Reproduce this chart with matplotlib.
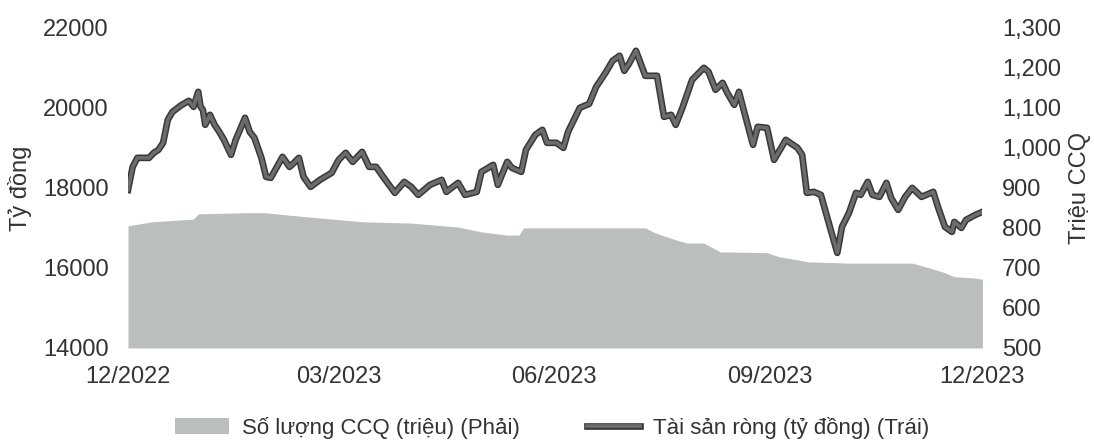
import numpy as np
import pandas as pd
import matplotlib
matplotlib.use("Agg")
import matplotlib.pyplot as plt
import matplotlib.patheffects as pe
from matplotlib.lines import Line2D
from matplotlib.patches import Patch
from matplotlib.ticker import FuncFormatter

plt.rcParams['font.family'] = ['Liberation Sans', 'DejaVu Sans']

start = pd.Timestamp("2022-12-01")

# net assets (ty dong), left axis - day offsets from 01/12/2022
nav_days = [0, 2, 4, 6, 9, 11, 13, 15, 17, 19, 23, 26, 28, 30, 31, 32, 33, 35, 37, 39,
            41, 44, 46, 50, 52, 54, 57, 59, 61, 66, 69, 70, 73, 75, 78, 82, 87, 90, 93, 96,
            100, 103, 106, 109, 114, 118, 121, 124, 129, 134, 136, 141, 144, 149, 151, 156, 158, 162, 164, 168,
            170, 174, 177, 179, 183, 186, 188, 193, 197, 200, 204, 207, 210, 212, 214, 217, 221, 226, 229, 232,
            234, 237, 241, 246, 248, 251, 254, 256, 259, 261, 263, 267, 269, 273, 276, 281, 286, 288, 290, 293,
            296, 299, 303, 305, 308, 311, 313, 316, 318, 321, 324, 326, 329, 332, 335, 339, 344, 346, 349, 352,
            353, 356, 358, 362, 365]
nav_values = [17950, 18525, 18750, 18750, 18750, 18875, 18950, 19125, 19700, 19900, 20075, 20175, 20025, 20400, 20025, 19950, 19575, 19825, 19575, 19400,
              19200, 18825, 19200, 19750, 19400, 19250, 18750, 18275, 18250, 18775, 18525, 18575, 18750, 18275, 18025, 18200, 18375, 18700, 18875, 18650,
              18900, 18525, 18525, 18275, 17875, 18150, 18025, 17825, 18075, 18200, 17900, 18125, 17825, 17900, 18400, 18575, 18075, 18650, 18500, 18400,
              18950, 19325, 19450, 19125, 19125, 19000, 19400, 20000, 20100, 20525, 20875, 21175, 21300, 20925, 21100, 21425, 20800, 20800, 19775, 19825,
              19575, 20025, 20700, 21000, 20900, 20450, 20625, 20375, 20075, 20400, 19950, 19075, 19525, 19500, 18700, 19200, 19000, 18825, 17875, 17900,
              17825, 17200, 16375, 17025, 17375, 17875, 17825, 18150, 17825, 17775, 18125, 17750, 17450, 17775, 18000, 17775, 17900, 17525, 17025, 16900,
              17150, 17000, 17200, 17325, 17400]

# fund certificates outstanding (trieu CCQ), right axis
ccq_days = [0, 10, 28, 30, 51, 58, 72, 87, 101, 121, 141, 151, 162, 167, 169, 184, 221, 225, 234, 239,
            246, 253, 273, 278, 286, 291, 308, 323, 335, 341, 348, 353, 361, 365]
ccq_values = [805, 815, 822, 835, 838, 838, 830, 822, 815, 812, 802, 790, 782, 782, 800, 800, 800, 788, 770, 762,
              762, 740, 738, 728, 720, 715, 712, 712, 712, 702, 690, 678, 675, 672]

tick_labels = ["12/2022", "03/2023", "06/2023", "09/2023", "12/2023"]
tick_days = [0, 90, 182, 274, 365]

legend_labels = ["Số lượng CCQ (triệu) (Phải)", "Tài sản ròng (tỷ đồng) (Trái)"]

area_color = "#babebc"
line_inner = "#6c6c6c"
line_outer = "#383838"
text_color = "#333333"

nav_x = start + pd.to_timedelta(nav_days, unit="D")
ccq_x = start + pd.to_timedelta(ccq_days, unit="D")

fig = plt.figure(figsize=(10.94, 4.41), dpi=100)
ax = fig.add_axes([0.117, 0.211, 0.781, 0.726])
ax2 = ax.twinx()

ax2.fill_between(ccq_x, ccq_values, 500, color=area_color, linewidth=0)
line_fx = [pe.Stroke(linewidth=4.8, foreground=line_outer), pe.Normal()]
ax.plot(nav_x, nav_values, color=line_inner, linewidth=2.6, path_effects=line_fx)

ax.set_zorder(ax2.get_zorder() + 1)
ax.patch.set_visible(False)

ax.set_xlim(start, start + pd.Timedelta(days=365))
ax.set_ylim(14000, 22000)
ax2.set_ylim(500, 1300)
ax.set_yticks([14000, 16000, 18000, 20000, 22000])
ax2.set_yticks(np.arange(500, 1301, 100))
ax2.yaxis.set_major_formatter(FuncFormatter(lambda v, p: f"{v:,.0f}"))
ax.set_xticks(start + pd.to_timedelta(tick_days, unit="D"))
ax.set_xticklabels(tick_labels)

for a in (ax, ax2):
    for s in a.spines.values():
        s.set_visible(False)
    a.tick_params(length=0, labelsize=17, colors=text_color)
ax.tick_params(axis='y', pad=14)
ax2.tick_params(axis='y', pad=14)
ax.tick_params(axis='x', pad=13)

ax.set_ylabel("Tỷ đồng", fontsize=17, color=text_color, labelpad=8)
ax2.set_ylabel("Triệu CCQ", fontsize=17, color=text_color, labelpad=6)

handles = [Patch(facecolor=area_color, edgecolor='none'),
           Line2D([0], [0], color=line_inner, linewidth=2.6, path_effects=line_fx)]
fig.legend(handles, legend_labels, loc='center', bbox_to_anchor=(0.505, 0.03), ncol=2,
           frameon=False, fontsize=16, handlelength=2.4, handletextpad=0.6,
           columnspacing=3.0, labelcolor=text_color)

fig.savefig("out.png", dpi=100)
